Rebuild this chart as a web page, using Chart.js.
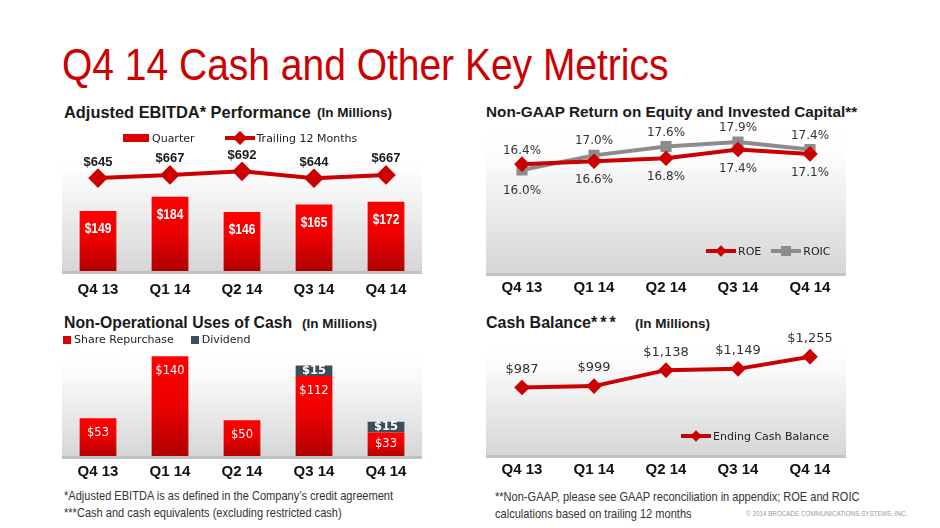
<!DOCTYPE html>
<html>
<head>
<meta charset="utf-8">
<script src="https://cdn.jsdelivr.net/npm/chart.js@4.4.1/dist/chart.umd.min.js"></script>
<style>
  html, body { margin: 0; padding: 0; background: #fff; }
  body { width: 940px; height: 528px; position: relative; overflow: hidden; font-family: "Liberation Sans", Arial, sans-serif; }
  .abs { position: absolute; }
  .title { left: 62px; top: 42px; font-size: 45px; line-height: 45px; color: #cc0000; white-space: nowrap; transform: scaleX(0.866); transform-origin: 0 0; }
  .head { font-weight: bold; color: #1a1a1a; white-space: nowrap; line-height: 18px; }
  .sub { font-weight: bold; font-size: 13.5px; color: #1a1a1a; white-space: nowrap; line-height: 18px; }
  .legend { font-family: "DejaVu Sans", Verdana, sans-serif; font-size: 11px; color: #222; white-space: nowrap; display: flex; align-items: center; z-index: 5; }
  .legend svg { margin-right: 2px; }
  .note { font-size: 13px; color: #333; white-space: nowrap; line-height: 17px; transform: scaleX(0.85); transform-origin: 0 0; }
  .copy { font-size: 7px; color: #9a9a9a; white-space: nowrap; transform: scaleX(0.9); transform-origin: 0 0; }
  canvas { position: absolute; }
</style>
</head>
<body>
<div class="abs title">Q4 14 Cash and Other Key Metrics</div>

<div class="abs head" style="left:64px;top:103px;font-size:16.4px">Adjusted EBITDA* Performance</div>
<div class="abs sub" style="left:317px;top:104px">(In Millions)</div>
<div class="abs head" style="left:486px;top:103px;font-size:15.3px">Non-GAAP Return on Equity and Invested Capital**</div>
<div class="abs head" style="left:64px;top:314px;font-size:15.8px">Non-Operational Uses of Cash</div>
<div class="abs sub" style="left:302px;top:315px">(In Millions)</div>
<div class="abs head" style="left:486px;top:314px;font-size:16px">Cash Balance<span style="letter-spacing:3px">***</span></div>
<div class="abs sub" style="left:635px;top:315px">(In Millions)</div>

<canvas id="ebitdaChart" style="left:62px;top:125px;width:360px;height:176px"></canvas>
<canvas id="returnChart" style="left:486px;top:103px;width:360px;height:200px"></canvas>
<canvas id="usesChart" style="left:62px;top:324px;width:360px;height:162px"></canvas>
<canvas id="cashChart" style="left:486px;top:315px;width:360px;height:170px"></canvas>

<div class="abs legend" style="left:123px;top:131px">
  <svg width="27" height="10"><rect x="0" y="1" width="26" height="8" fill="#e00000"/></svg>Quarter
  <svg width="30" height="14" style="margin-left:30px"><line x1="0" y1="7" x2="30" y2="7" stroke="#cc0000" stroke-width="4"/><rect x="10" y="2" width="10" height="10" fill="#cc0000" transform="rotate(45 15 7)"/></svg>Trailing 12 Months
</div>
<div class="abs legend" style="left:706px;top:244px">
  <svg width="30" height="14"><line x1="0" y1="7" x2="30" y2="7" stroke="#cc0000" stroke-width="4"/><rect x="11" y="3" width="8" height="8" fill="#cc0000" transform="rotate(45 15 7)"/></svg>ROE
  <svg width="30" height="14" style="margin-left:10px"><line x1="0" y1="7" x2="30" y2="7" stroke="#8c8c8c" stroke-width="4"/><rect x="10" y="2" width="10" height="10" fill="#8c8c8c"/></svg>ROIC
</div>
<div class="abs legend" style="left:63px;top:333px">
  <svg width="9" height="10"><rect x="0" y="1" width="8" height="8" fill="#e00000"/></svg>Share Repurchase
  <svg width="9" height="10" style="margin-left:17px"><rect x="0" y="1" width="8" height="8" fill="#3c4e5c"/></svg>Dividend
</div>
<div class="abs legend" style="left:681px;top:429px">
  <svg width="30" height="14"><line x1="0" y1="7" x2="30" y2="7" stroke="#cc0000" stroke-width="4"/><rect x="11" y="3" width="8" height="8" fill="#cc0000" transform="rotate(45 15 7)"/></svg>Ending Cash Balance
</div>

<div class="abs note" style="left:64px;top:487px">*Adjusted EBITDA is as defined in the Company’s credit agreement<br>***Cash and cash equivalents (excluding restricted cash)</div>
<div class="abs note" style="left:495px;top:488px">**Non-GAAP, please see GAAP reconciliation in appendix; ROE and ROIC<br>calculations based on trailing 12 months</div>
<div class="abs copy" style="left:746px;top:510px">© 2014 BROCADE COMMUNICATIONS SYSTEMS, INC.</div>

<script>
// quarters shared by all four panels
const quarters = ["Q4 13", "Q1 14", "Q2 14", "Q3 14", "Q4 14"];

// Adjusted EBITDA ($M)
const ebitdaQuarter = [149, 184, 146, 165, 172];
const ebitdaTrailing = [645, 667, 692, 644, 667];

// Non-GAAP returns (%)
const roe = [16.4, 16.6, 16.8, 17.4, 17.1];
const roic = [16.0, 17.0, 17.6, 17.9, 17.4];

// Non-operational uses of cash ($M)
const shareRepurchase = [53, 140, 50, 112, 33];
const dividend = [null, null, null, 15, 15];

// Ending cash balance ($M)
const cashBalance = [987, 999, 1138, 1149, 1255];

const RED = "#cc0000";
const GREY = "#8c8c8c";
const SLATE = "#3c4e5c";

// ==================== PLUGINS ====================

// light grey fade behind each plot
const plotBackground = {
  id: "plotBackground",
  beforeDatasetsDraw(chart) {
    const { ctx, chartArea: a } = chart;
    const g = ctx.createLinearGradient(0, a.top, 0, a.bottom);
    g.addColorStop(0, "rgba(255,255,255,0)");
    g.addColorStop(0.35, "rgba(245,245,245,1)");
    g.addColorStop(1, "#d6d6d6");
    ctx.save();
    ctx.fillStyle = g;
    ctx.fillRect(a.left, a.top, a.right - a.left, a.bottom - a.top);
    ctx.fillStyle = "#c2c2c2";
    ctx.fillRect(a.left, a.bottom, a.right - a.left, 3);
    ctx.restore();
  }
};

// value labels, configured per dataset through dataset.valueLabel
const valueLabels = {
  id: "valueLabels",
  afterDatasetsDraw(chart) {
    const { ctx } = chart;
    chart.data.datasets.forEach((ds, i) => {
      const cfg = ds.valueLabel;
      if (!cfg) return;
      const meta = chart.getDatasetMeta(i);
      meta.data.forEach((el, j) => {
        const v = ds.data[j];
        if (v === null || v === undefined) return;
        let y;
        if (cfg.mode === "inside") {
          const top = Math.min(el.y, el.base), bottom = Math.max(el.y, el.base);
          y = Math.min(top + cfg.offset, (top + bottom) / 2);
        } else if (cfg.mode === "center") {
          y = (el.y + el.base) / 2;
        } else {
          const below = cfg.below && cfg.below.includes(j);
          y = below ? el.y + cfg.offsetBelow : el.y - cfg.offset;
        }
        const sx = cfg.scaleX || 1;
        ctx.save();
        ctx.translate(el.x, y);
        ctx.scale(sx, 1);
        ctx.font = cfg.font;
        ctx.fillStyle = cfg.color;
        ctx.textAlign = "center";
        ctx.textBaseline = "middle";
        ctx.fillText(cfg.format(v), 0, 0);
        ctx.restore();
      });
    });
  }
};

// red bar, bright at the top fading darker to the base
function barGradient(context) {
  const chart = context.chart;
  const area = chart.chartArea;
  if (!area) return "#e00000";
  const yScale = chart.scales[context.dataset.yAxisID || "y"];
  const top = yScale.getPixelForValue(context.raw);
  const g = chart.ctx.createLinearGradient(0, top, 0, yScale.getPixelForValue(0));
  g.addColorStop(0, "#ff0000");
  g.addColorStop(0.45, "#f00000");
  g.addColorStop(1, "#b00000");
  return g;
}

function xAxis(padding) {
  return {
    offset: true,
    grid: { display: false, drawTicks: false, tickLength: 0 },
    border: { display: false },
    ticks: {
      color: "#111",
      padding: padding,
      font: { family: "Liberation Sans", size: 15, weight: "bold" }
    },
    afterFit: (s) => { s.height = 30; }
  };
}

// 25px of headroom above each plot keeps the value labels inside the canvas
const baseOptions = {
  responsive: false,
  animation: false,
  devicePixelRatio: 1,
  layout: { padding: { top: 25, left: 0, right: 0, bottom: 0 }, autoPadding: false },
  plugins: { legend: { display: false }, tooltip: { enabled: false } }
};

function makeCanvas(id) {
  const el = document.getElementById(id);
  el.width = parseInt(el.style.width);
  el.height = parseInt(el.style.height);
  return el.getContext("2d");
}

// ==================== CHARTS ====================

new Chart(makeCanvas("ebitdaChart"), {
  type: "bar",
  data: {
    labels: quarters,
    datasets: [
      {
        type: "line",
        label: "Trailing 12 Months",
        data: ebitdaTrailing,
        yAxisID: "y2",
        borderColor: RED,
        backgroundColor: RED,
        borderWidth: 4,
        pointStyle: "rectRot",
        pointRadius: 7,
        order: 0,
        valueLabel: { font: "bold 13px 'Liberation Sans'", color: "#1a1a1a", offset: 16, format: v => "$" + v }
      },
      {
        label: "Quarter",
        data: ebitdaQuarter,
        yAxisID: "y",
        backgroundColor: barGradient,
        categoryPercentage: 1,
        barPercentage: 0.51,
        order: 1,
        valueLabel: { mode: "inside", offset: 18, font: "bold 15px 'Liberation Sans'", scaleX: 0.8, color: "#fff", format: v => "$" + v }
      }
    ]
  },
  options: {
    ...baseOptions,
    scales: {
      x: xAxis(10),
      y: { display: false, min: 0, max: 300 },
      y2: { display: false, min: 0, max: 840 }
    }
  },
  plugins: [plotBackground, valueLabels]
});

new Chart(makeCanvas("returnChart"), {
  type: "line",
  data: {
    labels: quarters,
    datasets: [
      {
        label: "ROE",
        data: roe,
        borderColor: RED,
        backgroundColor: RED,
        borderWidth: 4,
        pointStyle: "rectRot",
        pointRadius: 5,
        valueLabel: { font: "12px 'DejaVu Sans'", color: "#333", offset: 13, offsetBelow: 19, below: [1, 2, 3, 4], format: v => v.toFixed(1) + "%" }
      },
      {
        label: "ROIC",
        data: roic,
        borderColor: GREY,
        backgroundColor: GREY,
        borderWidth: 4,
        pointStyle: "rect",
        pointRadius: 5,
        valueLabel: { font: "12px 'DejaVu Sans'", color: "#333", offset: 14, offsetBelow: 21, below: [0], format: v => v.toFixed(1) + "%" }
      }
    ]
  },
  options: {
    ...baseOptions,
    scales: {
      x: xAxis(6),
      y: { display: false, min: 9, max: 18.86 }
    }
  },
  plugins: [plotBackground, valueLabels]
});

new Chart(makeCanvas("usesChart"), {
  type: "bar",
  data: {
    labels: quarters,
    datasets: [
      {
        label: "Share Repurchase",
        data: shareRepurchase,
        backgroundColor: barGradient,
        categoryPercentage: 1,
        barPercentage: 0.51,
        valueLabel: { mode: "inside", offset: 15, font: "11.5px 'DejaVu Sans'", color: "#fff", format: v => "$" + v }
      },
      {
        label: "Dividend",
        data: dividend,
        backgroundColor: SLATE,
        categoryPercentage: 1,
        barPercentage: 0.51,
        valueLabel: { mode: "center", font: "bold 11.5px 'DejaVu Sans'", color: "#fff", format: v => "$" + v }
      }
    ]
  },
  options: {
    ...baseOptions,
    scales: {
      x: { ...xAxis(7), stacked: true },
      y: { display: false, stacked: true, min: 0, max: 150 }
    }
  },
  plugins: [plotBackground, valueLabels]
});

new Chart(makeCanvas("cashChart"), {
  type: "line",
  data: {
    labels: quarters,
    datasets: [
      {
        label: "Ending Cash Balance",
        data: cashBalance,
        borderColor: RED,
        backgroundColor: RED,
        borderWidth: 4,
        pointStyle: "rectRot",
        pointRadius: 5,
        valueLabel: { font: "13px 'DejaVu Sans'", color: "#333", offset: 18, format: v => "$" + v.toLocaleString("en-US") }
      }
    ]
  },
  options: {
    ...baseOptions,
    scales: {
      x: xAxis(6),
      y: { display: false, min: 400, max: 1400 }
    }
  },
  plugins: [plotBackground, valueLabels]
});
</script>
</body>
</html>
